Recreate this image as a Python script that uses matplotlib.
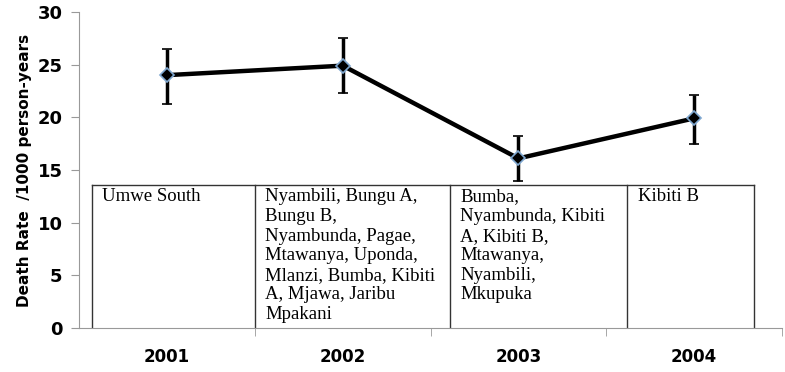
import matplotlib.pyplot as plt
import numpy as np

years = ['2001', '2002', '2003', '2004']
death_rate = [24.0, 24.9, 16.1, 19.9]
ci_low = [21.3, 22.3, 14.0, 17.5]
ci_high = [26.5, 27.5, 18.2, 22.1]
villages = [
    'Umwe South',
    'Nyambili, Bungu A,\nBungu B,\nNyambunda, Pagae,\nMtawanya, Uponda,\nMlanzi, Bumba, Kibiti\nA, Mjawa, Jaribu\nMpakani',
    'Bumba,\nNyambunda, Kibiti\nA, Kibiti B,\nMtawanya,\nNyambili,\nMkupuka',
    'Kibiti B',
]
# column edges of the village table, in category units
table_edges = [-0.43, 0.5, 1.61, 2.62, 3.34]
table_top = 13.6

fig = plt.figure(figsize=(7.85, 3.72), dpi=100)
ax = fig.add_axes([0.101, 0.118, 0.895, 0.85])

x = np.arange(len(years))
y = np.array(death_rate)
yerr = [y - np.array(ci_low), np.array(ci_high) - y]
ax.errorbar(x, y, yerr=yerr, color='black', lw=3.2, elinewidth=2.5,
            capsize=3.5, capthick=2.5, marker='D', markersize=7,
            markerfacecolor='black', markeredgecolor='#7fa7d0',
            markeredgewidth=1.2, zorder=3)

# village table
ax.plot([table_edges[0], table_edges[-1]], [table_top, table_top],
        color='#333333', lw=1, zorder=2)
for e in table_edges:
    ax.plot([e, e], [0, table_top], color='#333333', lw=1, zorder=2)
for i, txt in enumerate(villages):
    ax.text(table_edges[i] + 0.06, table_top - 0.35, txt, va='top', ha='left',
            family='Liberation Serif', fontsize=13.5, linespacing=1.2)

ax.set_xlim(-0.5, 3.5)
ax.set_ylim(0, 30)
ax.set_yticks([0, 5, 10, 15, 20, 25, 30])
ax.set_xticks(x)
ax.set_xticklabels(years)
ax.set_xticks(np.arange(0.5, 4, 1), minor=True)
ax.tick_params(axis='x', which='major', length=0, pad=14)
ax.tick_params(axis='x', which='minor', length=6, color='#999999', direction='out')
ax.tick_params(axis='y', length=6, color='#999999', pad=6)
for lab in ax.get_xticklabels() + ax.get_yticklabels():
    lab.set_fontweight('bold')
    lab.set_fontsize(12)
for lab in ax.get_yticklabels():
    lab.set_fontsize(13)

ax.set_ylabel('Death Rate  /1000 person-years', fontweight='bold', fontsize=11)

for s in ['top', 'right']:
    ax.spines[s].set_visible(False)
ax.spines['left'].set_color('#999999')
ax.spines['bottom'].set_color('#999999')

fig.savefig('out.png', dpi=100)
